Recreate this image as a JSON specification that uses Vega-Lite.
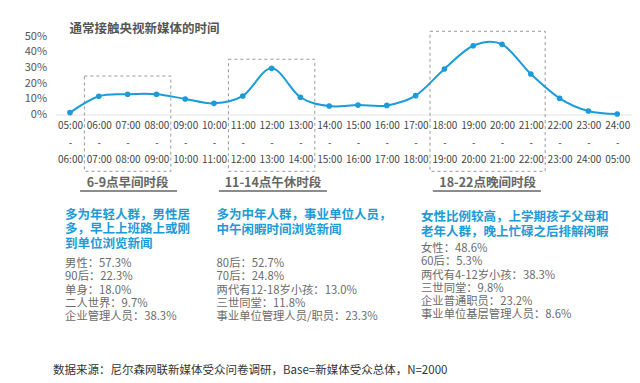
{
  "$schema": "https://vega.github.io/schema/vega-lite/v6.json",
  "autosize": "none",
  "width": 576,
  "height": 78.5,
  "padding": {"left": 55.6, "top": 36, "right": 8.4, "bottom": 268.5},
  "background": "white",
  "config": {
    "view": {"stroke": null},
    "font": "Noto Sans CJK SC",
    "text": {"font": "Noto Sans CJK SC"},
    "axis": {"labelOverlap": false, "labelFlush": false}
  },
  "title": {
    "text": "通常接触央视新媒体的时间",
    "anchor": "start",
    "frame": "group",
    "dx": 14,
    "dy": 5,
    "offset": 0,
    "fontSize": 12.5,
    "fontWeight": "bold",
    "color": "#555555",
    "font": "Noto Sans CJK SC"
  },
  "datasets": {
    "series": [
      {"hour": 5, "share": 0.012},
      {"hour": 6, "share": 0.116},
      {"hour": 7, "share": 0.129},
      {"hour": 8, "share": 0.129},
      {"hour": 9, "share": 0.099},
      {"hour": 10, "share": 0.071},
      {"hour": 11, "share": 0.118},
      {"hour": 12, "share": 0.294},
      {"hour": 13, "share": 0.11},
      {"hour": 14, "share": 0.054},
      {"hour": 15, "share": 0.06},
      {"hour": 16, "share": 0.058},
      {"hour": 17, "share": 0.12},
      {"hour": 18, "share": 0.29},
      {"hour": 19, "share": 0.438},
      {"hour": 20, "share": 0.447},
      {"hour": 21, "share": 0.258},
      {"hour": 22, "share": 0.103},
      {"hour": 23, "share": 0.022},
      {"hour": 24, "share": 0.003}
    ],
    "boxes": [
      {"from": 5.5, "to": 8.5, "top": 0.245, "bottom": -0.362},
      {"from": 10.5, "to": 13.5, "top": 0.352, "bottom": -0.362},
      {"from": 17.5, "to": 21.5, "top": 0.53, "bottom": -0.362}
    ],
    "periods": [
      {"label": "6-9点早间时段", "center": 7, "from": 5.35, "to": 8.72},
      {"label": "11-14点午休时段", "center": 12.05, "from": 10.17, "to": 13.92},
      {"label": "18-22点晚间时段", "center": 19.5, "from": 17.6, "to": 21.35}
    ],
    "headlines": [
      {"text": "多为年轻人群，男性居\n多，早上上班路上或刚\n到单位浏览新闻", "hour": 4.83, "level": -0.6},
      {"text": "多为中年人群，事业单位人员，\n中午闲暇时间浏览新闻", "hour": 10.09, "level": -0.602},
      {"text": "女性比例较高，上学期孩子父母和\n老年人群，晚上忙碌之后排解闲暇", "hour": 17.19, "level": -0.615}
    ],
    "details": [
      {"text": "男性：57.3%\n90后：22.3%\n单身：18.0%\n二人世界：9.7%\n企业管理人员：38.3%", "hour": 4.83, "level": -0.914},
      {"text": "80后：52.7%\n70后：24.8%\n两代有12-18岁小孩：13.0%\n三世同堂：11.8%\n事业单位管理人员/职员：23.3%", "hour": 10.09, "level": -0.914},
      {"text": "女性：48.6%\n60后：5.3%\n两代有4-12岁小孩：38.3%\n三世同堂：9.8%\n企业普通职员：23.2%\n事业单位基层管理人员：8.6%", "hour": 17.19, "level": -0.818}
    ],
    "source": [
      {"text": "数据来源：尼尔森网联新媒体受众问卷调研，Base=新媒体受众总体，N=2000", "hour": 4.41, "level": -1.635}
    ]
  },
  "layer": [
    {
      "data": {"name": "boxes"},
      "mark": {"type": "rect", "fill": null, "stroke": "#999999", "strokeWidth": 1, "strokeDash": [3, 3]},
      "encoding": {
        "x": {"field": "from", "type": "quantitative", "scale": {"domain": [4.5, 24.5], "nice": false, "zero": false}},
        "x2": {"field": "to"},
        "y": {"field": "top", "type": "quantitative"},
        "y2": {"field": "bottom"}
      }
    },
    {
      "data": {"name": "series"},
      "mark": {"type": "line", "interpolate": "cardinal", "color": "#1b9bd7", "strokeWidth": 2},
      "encoding": {
        "x": {
          "field": "hour", "type": "quantitative",
          "scale": {"domain": [4.5, 24.5], "nice": false, "zero": false},
          "axis": {
            "title": null,
            "values": [5,6,7,8,9,10,11,12,13,14,15,16,17,18,19,20,21,22,23,24],
            "tickCount": 30,
            "labelExpr": "[(datum.value<10?'0':'')+datum.value+':00', '-', datum.value==24?'05:00':((datum.value+1<10?'0':'')+(datum.value+1)+':00')]",
            "labelLineHeight": 17,
            "labelFontSize": 10,
            "labelColor": "#444444",
            "labelFont": "Noto Sans CJK SC",
            "labelPadding": 6,
            "labelOverlap": false,
            "labelFlush": false,
            "ticks": false,
            "grid": false,
            "domain": true,
            "domainColor": "#e3e3e3",
            "domainWidth": 1
          }
        },
        "y": {
          "field": "share", "type": "quantitative",
          "scale": {"domain": [0, 0.5], "nice": false},
          "axis": {
            "title": null,
            "values": [0, 0.1, 0.2, 0.3, 0.4, 0.5],
            "tickCount": 10,
            "format": ".0%",
            "labelFontSize": 11,
            "labelColor": "#555555",
            "labelFont": "Noto Sans CJK SC",
            "labelPadding": 9,
            "labelOverlap": false,
            "ticks": false,
            "domain": false,
            "grid": false
          }
        }
      }
    },
    {
      "data": {"name": "series"},
      "mark": {"type": "point", "filled": true, "opacity": 1, "color": "#1b9bd7", "size": 32},
      "encoding": {
        "x": {"field": "hour", "type": "quantitative"},
        "y": {"field": "share", "type": "quantitative"}
      }
    },
    {
      "data": {"name": "periods"},
      "mark": {"type": "text", "fontSize": 12.5, "fontWeight": "bold", "color": "#666666", "align": "center", "baseline": "middle"},
      "encoding": {
        "x": {"field": "center", "type": "quantitative"},
        "y": {"datum": -0.436, "type": "quantitative"},
        "text": {"field": "label"}
      }
    },
    {
      "data": {"name": "periods"},
      "mark": {"type": "rule", "color": "#8c8c8c", "strokeWidth": 2},
      "encoding": {
        "x": {"field": "from", "type": "quantitative"},
        "x2": {"field": "to"},
        "y": {"datum": -0.487, "type": "quantitative"}
      }
    },
    {
      "data": {"name": "headlines"},
      "mark": {"type": "text", "fontSize": 12.5, "fontWeight": "bold", "color": "#1b9bd7", "align": "left", "baseline": "top", "lineBreak": "\n", "lineHeight": 14.5},
      "encoding": {
        "x": {"field": "hour", "type": "quantitative"},
        "y": {"field": "level", "type": "quantitative"},
        "text": {"field": "text"}
      }
    },
    {
      "data": {"name": "details"},
      "mark": {"type": "text", "fontSize": 11.3, "color": "#6b6b6b", "align": "left", "baseline": "top", "lineBreak": "\n", "lineHeight": 13.3},
      "encoding": {
        "x": {"field": "hour", "type": "quantitative"},
        "y": {"field": "level", "type": "quantitative"},
        "text": {"field": "text"}
      }
    },
    {
      "data": {"name": "source"},
      "mark": {"type": "text", "fontSize": 11.5, "color": "#333333", "align": "left", "baseline": "middle"},
      "encoding": {
        "x": {"field": "hour", "type": "quantitative"},
        "y": {"field": "level", "type": "quantitative"},
        "text": {"field": "text"}
      }
    }
  ]
}
